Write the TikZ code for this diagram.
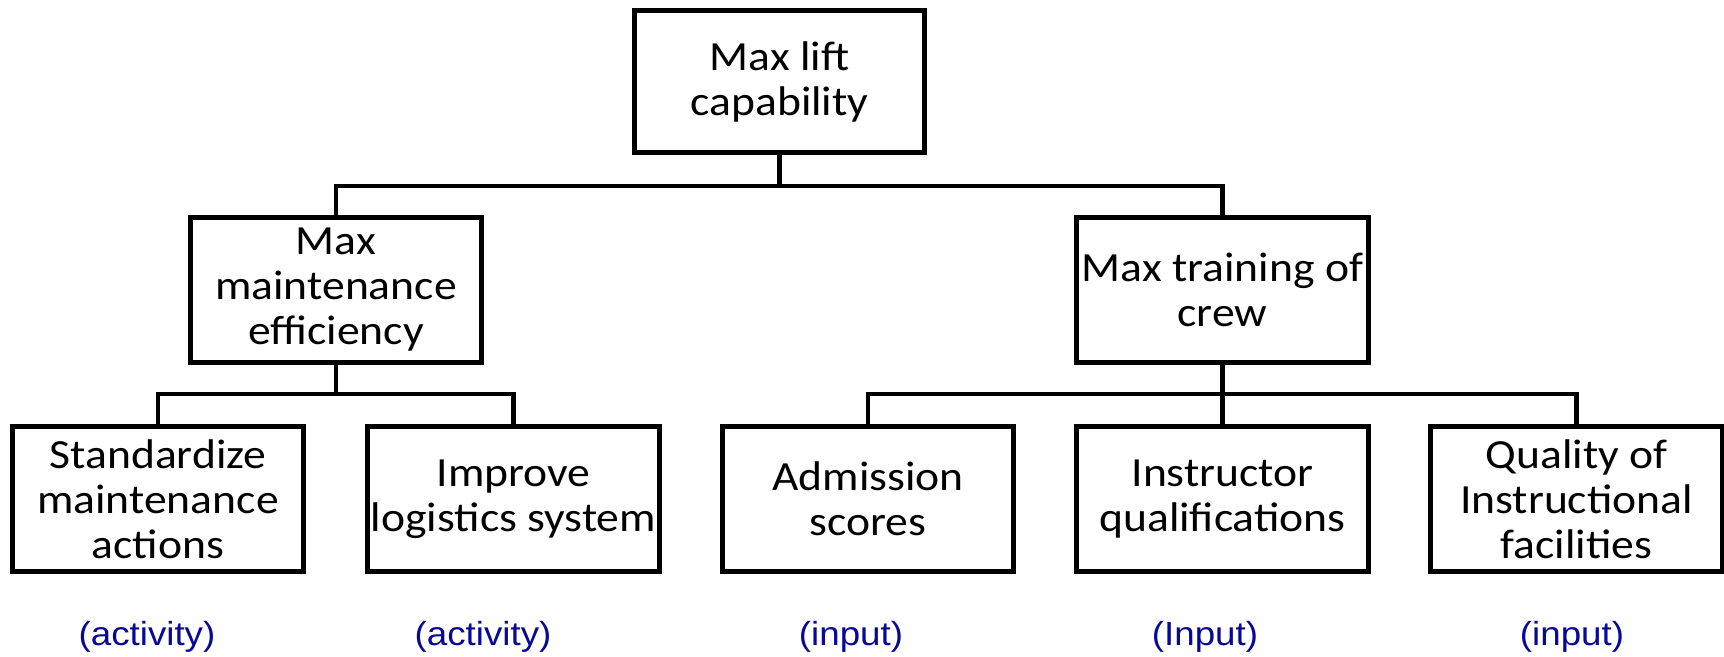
\documentclass[tikz,border=0pt]{standalone}
\usepackage{fontspec}
\newfontfamily\boxfont[FakeStretch=1.1]{Carlito}
\newfontfamily\labfont[FakeStretch=1.1]{Liberation Sans}
\definecolor{tagblue}{RGB}{8,8,150}
\tikzset{
  box/.style={draw=black, line width=2.85pt, fill=white, align=center,
    minimum width=5.84cm, minimum height=2.92cm, inner sep=0pt,
    font=\boxfont\fontsize{23.6}{25.6}\selectfont},
  conn/.style={draw=black, line width=2.6pt},
  tag/.style={text=tagblue, inner sep=0pt, font=\labfont\fontsize{19}{21}\selectfont}
}
\begin{document}
\begin{tikzpicture}[x=0.02cm, y=-0.02cm]
\useasboundingbox (0,0) rectangle (1724,656);

% goal
\node[box, minimum width=5.82cm, minimum height=2.86cm] (top) at (779.5,81.5) {Max lift\\capability};

% sub-goals
\node[box] (ml) at (336,290) {Max\\maintenance\\efficiency};
\node[box] (mr) at (1222.5,290) {Max training of\\crew};

% leaves
\node[box] (b1) at (158,499) {Standardize\\maintenance\\actions};
\node[box] (b2) at (513.5,499) {Improve\\logistics system};
\node[box] (b3) at (868,499) {Admission\\scores};
\node[box] (b4) at (1222.5,499) {Instructor\\qualifications};
\node[box] (b5) at (1576.5,499) {Quality of\\Instructional\\facilities};

% bus junctions
\coordinate (j0) at (779.5,186);
\coordinate (j1) at (336,394);
\coordinate (j2) at (1222.5,394);

\draw[conn] (top.south) -- (j0);
\draw[conn] (ml.north) |- (j0) -| (mr.north);
\draw[conn] (ml.south) -- (j1);
\draw[conn] (b1.north) |- (j1) -| (b2.north);
\draw[conn] (mr.south) -- (j2);
\draw[conn] (b3.north) |- (j2) -| (b5.north);
\draw[conn] (j2) -- (b4.north);

% kind of each leaf
\node[tag] (t1) at (147,637) {(activity)};
\node[tag] (t2) at (483,637) {(activity)};
\node[tag] (t3) at (851,637) {(input)};
\node[tag] (t4) at (1205,637) {(Input)};
\node[tag] (t5) at (1572,637) {(input)};
\end{tikzpicture}
\end{document}
